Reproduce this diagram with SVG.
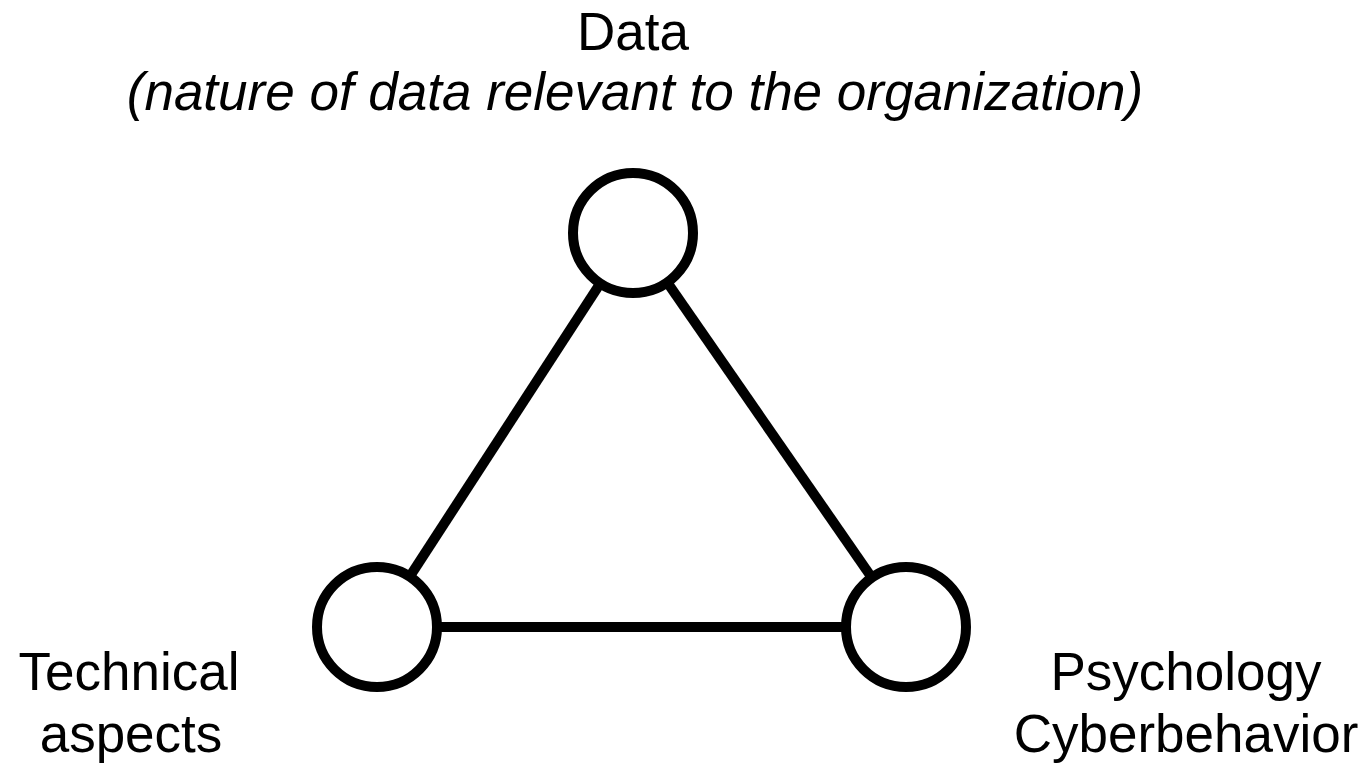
<svg xmlns="http://www.w3.org/2000/svg" width="1372" height="763" viewBox="0 0 1372 763">
  <style>
    .label { font-family: "Liberation Sans", Arial, sans-serif; font-size: 53px; fill: #000; text-anchor: middle; }
    .sub { font-style: italic; }
    .node { fill: #fff; stroke: #000; stroke-width: 10; }
    .edge { stroke: #000; stroke-width: 10; fill: none; }
  </style>
  <rect width="1372" height="763" fill="#fff"/>

  <!-- connectors: triangle sides between node centres -->
  <g id="connectors">
    <line class="edge" x1="633" y1="233" x2="377" y2="627"/>
    <line class="edge" x1="633" y1="233" x2="906" y2="627"/>
    <line class="edge" x1="377" y1="627" x2="906" y2="627"/>
  </g>

  <g id="node-data">
    <circle class="node" cx="633" cy="233" r="60"/>
    <text class="label" x="633" y="50">Data</text>
    <text class="label sub" x="635" y="110">(nature of data relevant to the organization)</text>
  </g>

  <g id="node-technical">
    <circle class="node" cx="377" cy="627" r="60"/>
    <text class="label" x="129" y="690">Technical</text>
    <text class="label" x="131" y="752">aspects</text>
  </g>

  <g id="node-psychology">
    <circle class="node" cx="906" cy="627" r="60"/>
    <text class="label" x="1186" y="690">Psychology</text>
    <text class="label" x="1186" y="752">Cyberbehavior</text>
  </g>
</svg>
